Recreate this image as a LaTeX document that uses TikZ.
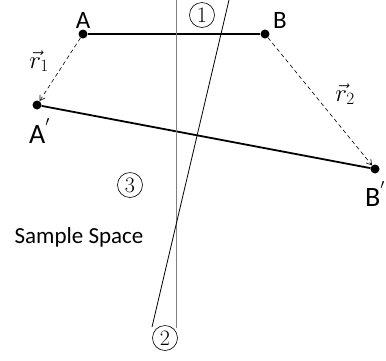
\documentclass[tikz,border=0pt]{standalone}
\usepackage{fontspec}
\setsansfont{Carlito}
\usetikzlibrary{arrows.meta,positioning}
\tikzset{
  dot/.style={circle,fill=black,inner sep=0pt,minimum size=9pt},
  seg/.style={line width=1.8pt},
  move/.style={dash pattern=on 4pt off 3pt,-{Straight Barb[length=5pt,width=6pt]},line width=0.6pt},
  mirror/.style={line width=0.8pt},
  ptlabel/.style={font=\sffamily\fontsize{25}{27}\selectfont},
  imglabel/.style={font=\sffamily\fontsize{28}{30}\selectfont,inner sep=0pt},
  veclabel/.style={font=\fontsize{24}{26}\selectfont},
  numlabel/.style={circle,draw,line width=0.6pt,inner sep=0pt,minimum size=25pt,
    font=\fontsize{22}{24}\selectfont}
}
\newcommand{\mprime}{\raisebox{1.3ex}{$\scriptscriptstyle\prime$}}

\begin{document}
\begin{tikzpicture}[x=1pt,y=-1pt]
\useasboundingbox (0,0) rectangle (386,360);

% points before and after the move
\node[dot] (A) at (83,34) {};
\node[dot] (B) at (265,34) {};
\node[dot] (A2) at (37,105) {};
\node[dot] (B2) at (375,169) {};

\node[ptlabel] (labA) at (83,20) {A};
\node[ptlabel] (labB) at (280,20) {B};
\node[imglabel,anchor=west] (labA2) at (29,131) {A\mprime};
\node[imglabel,anchor=west] (labB2) at (365,194) {B\mprime};

\draw[seg] (A)--(B);
\draw[seg] (A2)--(B2);
\draw[move] (A)--(A2);
\draw[move] (B)--(B2);

\node[veclabel] (r1) at (39,61) {$\vec{r}_1$};
\node[veclabel] (r2) at (345,94) {$\vec{r}_2$};

% the two mirror lines
\coordinate (m1top) at (176,0);
\coordinate (m1bot) at (176,328);
\coordinate (m2top) at (229,0);
\coordinate (m2bot) at (152,327);
\draw[mirror,gray] (m1top)--(m1bot);
\draw[mirror] (m2top)--(m2bot);

\node[numlabel] (n1) at (202,15) {1};
\node[numlabel] (n2) at (165,338) {2};
\node[numlabel] (n3) at (130,185) {3};

\node[ptlabel,font=\sffamily\fontsize{23}{25}\selectfont] (space) at (79,237) {Sample Space};
\end{tikzpicture}
\end{document}
